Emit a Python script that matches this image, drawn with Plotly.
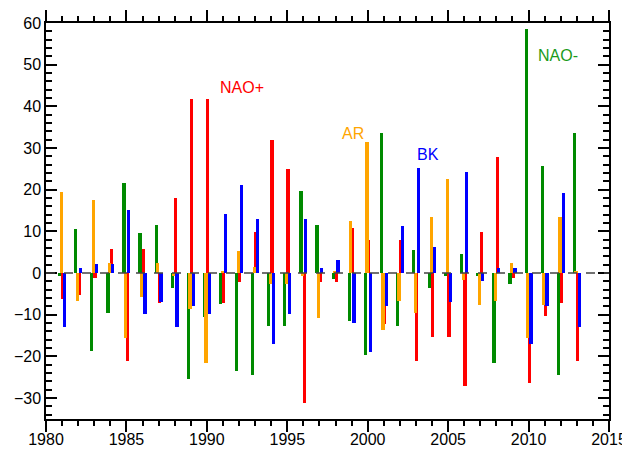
import plotly.graph_objects as go

# ── Data ────────────────────────────────────────────────────────────
years = list(range(1981, 2014))

nao_minus = [-0.6, 10.6, -18.6, -9.6, 21.6, 9.6, 11.5, -3.5, -25.5, -10.6,
             -7.5, -23.6, -24.5, -12.6, -12.6, 19.6, 11.5, -1.5, -11.5, -19.6,
             33.5, -12.6, 5.6, -3.5, -0.6, 4.6, -0.6, -21.6, -2.6, 58.6,
             25.6, -24.5, 33.6]
ar = [19.5, -6.7, 17.5, 2.5, -15.5, -5.7, 2.5, -0.6, -8.7, -21.6,
      0.5, 5.4, 1.4, -2.6, -2.6, -0.6, -10.7, 0.5, 12.5, 31.5,
      -13.6, -6.7, -9.6, 13.5, 22.5, -1.6, -7.6, -6.7, 2.5, -15.5,
      -7.7, 13.5, 0.5]
nao_plus = [-6.2, -5.3, -1.2, 5.9, -21.2, 5.9, -7.2, 17.9, 41.8, 41.8,
            -7.2, -2.2, 9.9, 31.9, 24.9, -31.2, -2.2, -2.2, 10.9, 7.9,
            -12.3, 7.9, -21.2, -15.3, -15.3, -27.2, 9.9, 27.9, -1.2, -26.3,
            -10.3, -7.2, -21.2]
bk = [-13.0, 1.2, 2.2, 2.2, 15.2, -9.9, -7.0, -13.0, -7.9, -9.9,
      14.2, 21.2, 13.1, -17.0, -9.9, 13.1, 1.2, 3.2, -12.0, -19.0,
      -7.9, 11.2, 25.2, 6.2, -7.0, 24.2, -1.9, 1.2, 1.2, -17.0,
      -7.9, 19.2, -13.0]

# series: name, values, colour, x offset within the year (drawing order)
series = [
    ("NAO-", nao_minus, "#008a00", -0.15),
    ("NAO+", nao_plus, "#ff0000", 0.05),
    ("AR", ar, "#ffa500", -0.05),
    ("BK", bk, "#0000ff", 0.15),
]

# in-plot labels: text, x, y, colour
labels = [
    ("NAO+", 1990.7, 44.6, "#ff0000"),
    ("AR", 1998.3, 33.4, "#ffa500"),
    ("BK", 2002.95, 28.5, "#0000ff"),
    ("NAO-", 2010.47, 52.1, "#1a9a1a"),
]

fig = go.Figure()

for name, vals, color, off in series:
    fig.add_trace(go.Bar(
        x=[y + off for y in years],
        y=vals,
        width=0.2,
        name=name,
        marker=dict(color=color, line=dict(width=0)),
        showlegend=False,
    ))

# dashed zero line
fig.add_hline(y=0, line=dict(color="#444444", width=1.5, dash="dash"))

for txt, lx, ly, col in labels:
    fig.add_annotation(
        x=lx, y=ly, text=txt, showarrow=False,
        xanchor="left", yanchor="middle",
        font=dict(family="Liberation Sans, Arial", size=16, color=col),
    )

# ── Layout ──────────────────────────────────────────────────────────
axis_font = dict(family="Liberation Sans, Arial", size=16, color="black")

# page body has an 8px margin, so the figure is shifted by that much
fig.update_layout(
    width=630, height=451,
    margin=dict(l=37.5, r=29, t=15, b=40),
    paper_bgcolor="white",
    plot_bgcolor="white",
    barmode="overlay",
    bargap=0,
)

fig.update_xaxes(
    range=[1980, 2015],
    tick0=1980, dtick=5,
    ticks="outside", ticklen=11, tickwidth=1.5, tickcolor="black",
    minor=dict(dtick=1, ticks="outside", ticklen=5, tickwidth=1.5, tickcolor="black"),
    showline=True, linecolor="black", linewidth=1.5, mirror="ticks",
    showgrid=False, zeroline=False, automargin=False,
    ticklabelstandoff=-6,
    tickfont=axis_font,
)
fig.update_yaxes(
    range=[-35, 60],
    tick0=0, dtick=10,
    ticks="inside", ticklen=11, tickwidth=1.5, tickcolor="black",
    minor=dict(dtick=2, ticks="inside", ticklen=6, tickwidth=1.5, tickcolor="black"),
    showline=True, linecolor="black", linewidth=1.5, mirror="ticks",
    showgrid=False, zeroline=False, automargin=False,
    tickfont=axis_font,
)

fig.write_html("out.html")
